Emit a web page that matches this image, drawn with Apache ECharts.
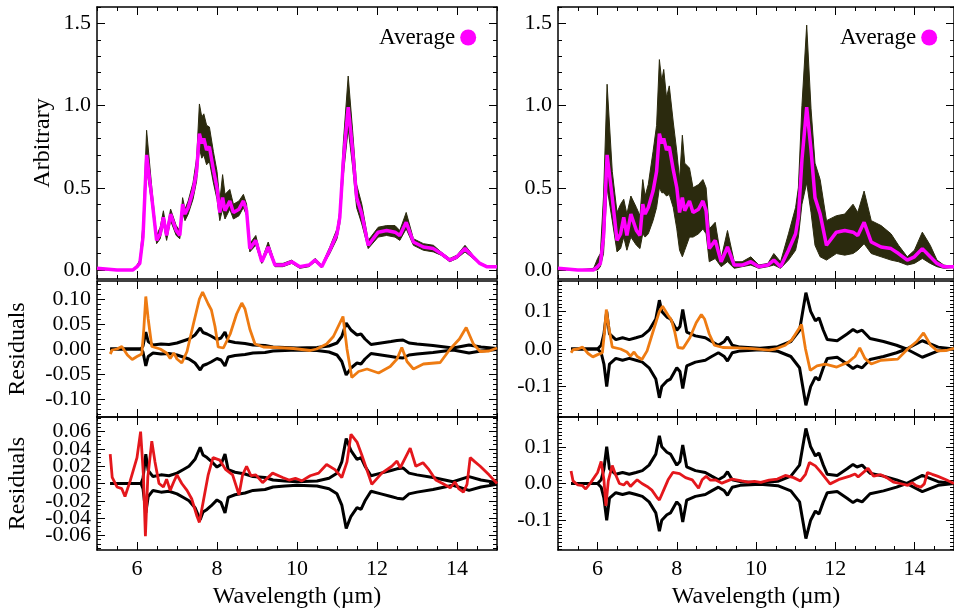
<!DOCTYPE html>
<html>
<head>
<meta charset="utf-8">
<script src="https://cdn.jsdelivr.net/npm/echarts@6/dist/echarts.min.js"></script>
<style>
html,body{margin:0;padding:0;background:#fff;}
#main{width:954px;height:610px;}
</style>
</head>
<body>
<div id="main"></div>
<script>
var FONT = '"Liberation Serif", "DejaVu Serif", serif';

// wavelength grid of the spectra (micron)
var waveGrid = [5.0,5.5,5.9,6.0,6.07,6.15,6.24,6.37,6.49,6.58,6.66,6.74,6.84,6.98,7.07,7.14,7.2,7.28,7.4,7.49,
	7.56,7.62,7.67,7.74,7.81,7.91,8.0,8.07,8.14,8.2,8.32,8.41,8.55,8.66,8.74,8.82,8.97,9.12,9.28,9.45,
	9.65,9.87,10.07,10.3,10.45,10.62,10.82,11.0,11.07,11.16,11.28,11.39,11.49,11.62,11.78,12.03,12.24,12.45,12.57,12.73,
	12.91,13.16,13.41,13.6,13.82,14.0,14.2,14.4,14.57,14.74,15.0];

// average spectrum (same in both columns)
var avgSpec = [0.01,0.0,0.0,0.02,0.04,0.20,0.70,0.44,0.18,0.22,0.32,0.21,0.34,0.24,0.21,0.40,0.34,0.38,0.48,0.60,
	0.83,0.77,0.80,0.73,0.75,0.61,0.50,0.35,0.44,0.36,0.42,0.35,0.37,0.42,0.36,0.13,0.18,0.05,0.14,0.03,
	0.03,0.05,0.02,0.03,0.06,0.02,0.12,0.22,0.32,0.67,0.99,0.73,0.44,0.34,0.15,0.23,0.24,0.23,0.21,0.29,
	0.17,0.14,0.13,0.10,0.06,0.08,0.13,0.08,0.04,0.02,0.02];

// envelope of the individual spectra, left column
var loLeft = [0.0,0.0,0.0,0.01,0.03,0.16,0.62,0.40,0.16,0.19,0.28,0.18,0.30,0.21,0.19,0.35,0.30,0.34,0.43,0.54,
	0.74,0.68,0.70,0.64,0.66,0.53,0.43,0.30,0.37,0.31,0.37,0.31,0.33,0.38,0.33,0.11,0.15,0.04,0.12,0.02,
	0.02,0.04,0.01,0.02,0.05,0.015,0.10,0.19,0.28,0.58,0.86,0.63,0.38,0.28,0.13,0.20,0.21,0.20,0.18,0.25,
	0.15,0.12,0.11,0.09,0.05,0.07,0.11,0.07,0.035,0.015,0.02];
var hiLeft = [0.01,0.0,0.0,0.03,0.06,0.28,0.85,0.50,0.21,0.26,0.36,0.24,0.37,0.27,0.24,0.44,0.37,0.42,0.53,0.68,
	1.01,0.93,0.95,0.88,0.87,0.72,0.60,0.42,0.58,0.46,0.49,0.40,0.42,0.46,0.40,0.16,0.21,0.06,0.17,0.04,
	0.04,0.06,0.02,0.03,0.07,0.03,0.14,0.25,0.36,0.78,1.18,0.85,0.52,0.40,0.18,0.26,0.27,0.27,0.24,0.35,
	0.19,0.16,0.15,0.11,0.07,0.09,0.15,0.09,0.045,0.025,0.02];

// envelope of the individual spectra, right column
var loRight = [0.0,0.0,0.0,0.0,0.02,0.10,0.50,0.30,0.11,0.13,0.20,0.12,0.20,0.15,0.13,0.22,0.20,0.22,0.30,0.38,
	0.50,0.47,0.47,0.45,0.46,0.38,0.25,0.12,0.08,0.12,0.20,0.20,0.22,0.25,0.22,0.05,0.07,0.02,0.05,0.01,
	0.02,0.03,0.01,0.02,0.03,0.01,0.06,0.12,0.20,0.40,0.53,0.35,0.15,0.08,0.06,0.10,0.09,0.10,0.12,0.16,
	0.10,0.08,0.06,0.05,0.03,0.04,0.07,0.04,0.02,0.01,0.015];
var hiRight = [0.01,0.0,0.01,0.07,0.10,0.45,1.13,0.60,0.35,0.40,0.43,0.34,0.45,0.38,0.33,0.55,0.45,0.52,0.72,0.88,
	1.28,1.15,1.22,1.05,1.12,0.90,0.72,0.55,0.82,0.65,0.62,0.50,0.52,0.55,0.50,0.25,0.29,0.07,0.24,0.05,
	0.05,0.08,0.03,0.04,0.10,0.05,0.22,0.38,0.50,1.00,1.49,0.98,0.65,0.55,0.30,0.33,0.34,0.40,0.35,0.48,
	0.30,0.27,0.22,0.15,0.08,0.12,0.23,0.15,0.06,0.03,0.02];

// standard deviation of the spectra (drawn as +/-)
var sigmaLeft = [[5.33,0],[6.1,0],[6.15,0.006],[6.22,0.034],[6.28,0.015],[6.4,0.008],[6.6,0.01],[6.8,0.009],
	[7.0,0.012],[7.15,0.016],[7.3,0.02],[7.45,0.028],[7.58,0.042],[7.65,0.033],[7.75,0.03],[7.85,0.026],
	[8.0,0.019],[8.1,0.022],[8.2,0.034],[8.28,0.016],[8.45,0.013],[8.7,0.011],[8.9,0.008],[9.2,0.007],
	[9.4,0.004],[9.7,0.003],[10.0,0.002],[10.5,0.003],[10.8,0.006],[11.0,0.012],[11.12,0.025],[11.23,0.052],
	[11.35,0.038],[11.5,0.028],[11.6,0.03],[11.7,0.02],[11.85,0.009],[12.1,0.012],[12.35,0.015],[12.5,0.017],
	[12.65,0.018],[12.8,0.012],[13.0,0.01],[13.4,0.007],[13.9,0.002],[14.3,0.008],[14.6,0.004],[15.0,0.001]];
var sigmaRight = [[5.33,0],[6.0,0],[6.09,0.01],[6.16,0.04],[6.23,0.1],[6.3,0.04],[6.46,0.025],[6.63,0.03],
	[6.8,0.025],[6.97,0.03],[7.13,0.035],[7.3,0.05],[7.47,0.08],[7.56,0.13],[7.62,0.1],[7.67,0.105],
	[7.75,0.085],[7.84,0.08],[8.0,0.05],[8.08,0.06],[8.15,0.105],[8.25,0.045],[8.47,0.035],[8.72,0.03],
	[8.88,0.02],[9.05,0.01],[9.2,0.02],[9.28,0.032],[9.4,0.01],[9.6,0.005],[10.1,0.002],[10.55,0.006],
	[10.88,0.02],[11.1,0.05],[11.18,0.1],[11.26,0.15],[11.38,0.1],[11.5,0.075],[11.59,0.083],[11.7,0.05],
	[11.8,0.025],[12.05,0.022],[12.3,0.04],[12.45,0.052],[12.55,0.045],[12.68,0.05],[12.88,0.028],[13.22,0.02],
	[13.55,0.01],[13.8,0.0],[14.2,0.022],[14.6,0.005],[15.0,0.0]];

// residuals of the two fits
var residOrange = [[5.33,-0.01],[5.38,-0.002],[5.5,0.0],[5.62,0.005],[5.76,-0.012],[5.88,-0.021],[6.0,-0.015],
	[6.12,-0.01],[6.17,0.04],[6.22,0.105],[6.28,0.06],[6.37,0.005],[6.58,0.0],[6.74,-0.008],[6.83,-0.019],
	[6.92,-0.008],[7.0,-0.02],[7.12,-0.028],[7.25,-0.005],[7.41,0.05],[7.56,0.1],[7.64,0.114],[7.78,0.09],
	[7.86,0.078],[7.95,0.045],[8.03,0.004],[8.16,0.002],[8.33,0.03],[8.49,0.07],[8.62,0.092],[8.7,0.08],
	[8.82,0.04],[8.95,0.01],[9.16,0.004],[9.49,0.003],[9.91,0.001],[10.33,-0.003],[10.49,0.0],[10.74,0.01],
	[10.91,0.025],[11.15,0.065],[11.25,0.0],[11.37,-0.057],[11.54,-0.045],[11.75,-0.04],[12.04,-0.048],
	[12.33,-0.035],[12.5,-0.02],[12.62,0.003],[12.75,-0.025],[12.91,-0.04],[13.16,-0.03],[13.58,-0.027],
	[13.83,0.0],[14.06,0.02],[14.23,0.043],[14.41,0.01],[14.58,-0.005],[14.8,-0.004],[15.0,0.002]];
var residRed = [[5.33,0.034],[5.38,0.007],[5.5,-0.004],[5.62,-0.006],[5.7,-0.015],[5.83,0.003],[6.0,0.03],
	[6.09,0.06],[6.16,0.01],[6.21,-0.061],[6.27,0.007],[6.37,0.049],[6.45,0.025],[6.55,0.0],[6.66,-0.004],
	[6.74,0.005],[6.83,-0.008],[6.92,0.002],[7.0,0.01],[7.12,0.0],[7.25,-0.008],[7.37,-0.018],[7.5,-0.038],
	[7.56,-0.045],[7.66,-0.02],[7.78,0.01],[7.9,0.03],[8.07,0.027],[8.22,0.016],[8.39,0.01],[8.55,-0.013],
	[8.64,0.01],[8.74,0.02],[8.85,0.009],[8.97,0.01],[9.14,0.001],[9.39,0.012],[9.64,0.007],[9.8,0.004],
	[9.96,0.006],[10.12,0.003],[10.33,0.009],[10.54,0.012],[10.74,0.022],[10.95,0.016],[11.12,0.007],
	[11.25,0.025],[11.35,0.057],[11.5,0.048],[11.62,0.033],[11.79,0.01],[11.87,-0.001],[12.12,0.012],
	[12.37,0.02],[12.5,0.026],[12.58,0.018],[12.83,0.041],[12.97,0.02],[13.15,0.024],[13.3,0.016],
	[13.47,0.004],[13.64,0.0],[13.83,-0.005],[13.95,0.002],[14.04,-0.006],[14.16,-0.01],[14.25,-0.001],
	[14.33,0.03],[14.45,0.025],[14.58,0.02],[14.8,0.01],[15.0,0.0]];

// tick labels
var xTicks = [6, 8, 10, 12, 14];
var yTicksTop = [0, 0.5, 1.0, 1.5];
var yTicksMidL = [-0.10, -0.05, 0, 0.05, 0.10];
var yTicksBotL = [-0.06, -0.04, -0.02, 0, 0.02, 0.04, 0.06];
var yTicksRes = [-0.1, 0, 0.1];

function minorTicks(min, max, step, majors) {
	var out = [];
	for (var k = Math.ceil(min / step - 1e-9); k * step <= max + 1e-9; k++) {
		var v = Math.round(k * step * 1e6) / 1e6;
		var isMajor = majors.some(function (m) { return Math.abs(m - v) < step / 10; });
		if (!isMajor) out.push(v);
	}
	return out;
}

var panels = [
	{left: 97, top: 7, height: 272, ymin: -0.055, ymax: 1.6, major: yTicksTop, step: 0.1, dec: 1, name: 'Arbitrary', gap: 42, xlab: false},
	{left: 97, top: 281, height: 136, ymin: -0.136, ymax: 0.136, major: yTicksMidL, step: 0.01, dec: 2, name: 'Residuals', gap: 67, xlab: false},
	{left: 97, top: 417, height: 136, ymin: -0.077, ymax: 0.077, major: yTicksBotL, step: 0.005, dec: 2, name: 'Residuals', gap: 67, xlab: true},
	{left: 558, top: 7, height: 272, ymin: -0.055, ymax: 1.6, major: yTicksTop, step: 0.1, dec: 1, name: '', gap: 0, xlab: false},
	{left: 558, top: 281, height: 136, ymin: -0.181, ymax: 0.181, major: yTicksRes, step: 0.01, dec: 1, name: '', gap: 0, xlab: false},
	{left: 558, top: 417, height: 136, ymin: -0.181, ymax: 0.181, major: yTicksRes, step: 0.01, dec: 1, name: '', gap: 0, xlab: true}
];

var grids = [], xAxes = [], yAxes = [];
var xMinor = minorTicks(5, 15, 0.5, xTicks);

panels.forEach(function (p, g) {
	grids.push({left: p.left, top: p.top, width: 400, height: p.height});
	var yMinor = minorTicks(p.ymin, p.ymax, p.step, p.major);
	// tick labels are split over two overlaid axes so that tightly packed ones are never dropped
	var labelsA = p.major.filter(function (v, i) { return i % 2 === 0; });
	var labelsB = p.major.filter(function (v, i) { return i % 2 === 1; });
	function yLabel(show, values) {
		return {show: show, customValues: values, margin: 6,
			showMinLabel: true, showMaxLabel: true,
			color: '#000', fontFamily: FONT, fontSize: 22,
			formatter: function (v) { return v.toFixed(p.dec); }};
	}

	['bottom', 'top'].forEach(function (pos) {
		xAxes.push({
			type: 'value', gridIndex: g, position: pos, min: 5, max: 15,
			axisLine: {show: true, onZero: false, lineStyle: {color: '#000', width: 1.5}},
			axisTick: {show: true, inside: true, length: 8, customValues: xTicks, lineStyle: {color: '#000', width: 1}},
			axisLabel: {show: pos === 'bottom' && p.xlab, customValues: xTicks, margin: 8,
				showMinLabel: true, showMaxLabel: true,
				color: '#000', fontFamily: FONT, fontSize: 22},
			splitLine: {show: false},
			name: (pos === 'bottom' && p.xlab) ? 'Wavelength (\u00b5m)' : '',
			nameLocation: 'middle', nameGap: 35,
			nameTextStyle: {color: '#000', fontFamily: FONT, fontSize: 24}
		});
		xAxes.push({
			type: 'value', gridIndex: g, position: pos, min: 5, max: 15,
			axisLine: {show: false, onZero: false},
			axisTick: {show: true, inside: true, length: 4, customValues: xMinor, lineStyle: {color: '#000', width: 1}},
			axisLabel: {show: false},
			splitLine: {show: false}
		});
	});

	['left', 'right'].forEach(function (pos) {
		yAxes.push({
			type: 'value', gridIndex: g, position: pos, min: p.ymin, max: p.ymax,
			axisLine: {show: true, onZero: false, lineStyle: {color: '#000', width: 1.5}},
			axisTick: {show: true, inside: true, length: 8, customValues: p.major, lineStyle: {color: '#000', width: 1}},
			axisLabel: yLabel(pos === 'left', labelsA),
			splitLine: {show: false},
			name: pos === 'left' ? p.name : '',
			nameLocation: 'middle', nameRotate: 90, nameGap: p.gap,
			nameTextStyle: {color: '#000', fontFamily: FONT, fontSize: 24}
		});
		yAxes.push({
			type: 'value', gridIndex: g, position: pos, min: p.ymin, max: p.ymax,
			axisLine: {show: false, onZero: false},
			axisTick: {show: true, inside: true, length: 4, customValues: yMinor, lineStyle: {color: '#000', width: 1}},
			axisLabel: yLabel(pos === 'left' && labelsB.length > 0, labelsB),
			splitLine: {show: false}
		});
	});
});

function pairs(xs, ys) {
	return xs.map(function (x, i) { return [x, ys[i]]; });
}
function neg(list) {
	return list.map(function (d) { return [d[0], -d[1]]; });
}
function line(name, g, data, color, w) {
	return {
		name: name, type: 'line', xAxisIndex: 4 * g, yAxisIndex: 4 * g,
		data: data, symbol: 'none', showSymbol: false,
		lineStyle: {color: color, width: w}, itemStyle: {color: color}
	};
}

var BAND = '#2b2a0e';
var MAGENTA = '#ff00ff';
var ORANGE = '#ee7b12';
var RED = '#e4171c';

// filled polygon between lower and upper envelope, placed with the axes' own scales
function band(g, lo, hi) {
	return {
		name: 'band' + g, type: 'custom', xAxisIndex: 4 * g, yAxisIndex: 4 * g,
		data: waveGrid.map(function (x, i) { return [x, lo[i], hi[i]]; }),
		encode: {x: 0, y: [1, 2]},
		renderItem: function (params, api) {
			if (params.dataIndex !== 0) return null;
			var pts = [], i;
			for (i = 0; i < waveGrid.length; i++) pts.push(api.coord([waveGrid[i], hi[i]]));
			for (i = waveGrid.length - 1; i >= 0; i--) pts.push(api.coord([waveGrid[i], lo[i]]));
			return {type: 'polygon', shape: {points: pts}, style: {fill: BAND, stroke: BAND, lineWidth: 1}};
		}
	};
}

var series = [
	band(0, loLeft, hiLeft),
	line('Average', 0, pairs(waveGrid, avgSpec), MAGENTA, 3.5),
	band(3, loRight, hiRight),
	line('Average', 3, pairs(waveGrid, avgSpec), MAGENTA, 3.5)
];
[[1, sigmaLeft, residOrange, ORANGE], [2, sigmaLeft, residRed, RED],
 [4, sigmaRight, residOrange, ORANGE], [5, sigmaRight, residRed, RED]].forEach(function (r) {
	series.push(
		line('sigma+' + r[0], r[0], r[1], '#000', 3),
		line('sigma-' + r[0], r[0], neg(r[1]), '#000', 3),
		line('resid' + r[0], r[0], r[2], r[3], 2.8)
	);
});

var legendBase = {
	data: ['Average'], top: 21, align: 'right', icon: 'circle', itemWidth: 16, itemHeight: 16,
	selectedMode: false, textStyle: {color: '#000', fontFamily: FONT, fontSize: 23}
};

var chart = echarts.init(document.getElementById('main'));
chart.setOption({
	animation: false,
	backgroundColor: '#fff',
	grid: grids,
	xAxis: xAxes,
	yAxis: yAxes,
	legend: [
		Object.assign({}, legendBase, {left: 374}),
		Object.assign({}, legendBase, {left: 835})
	],
	series: series
});
</script>
</body>
</html>
